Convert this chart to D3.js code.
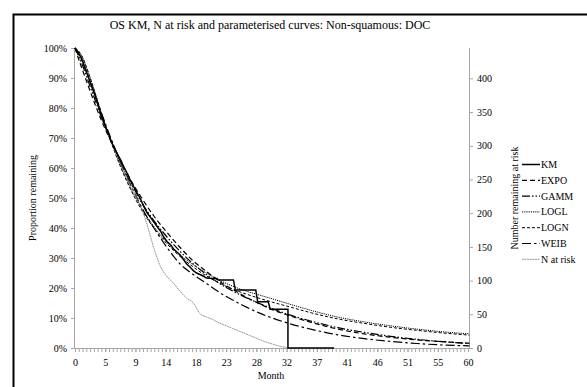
<!DOCTYPE html>
<html><head><meta charset="utf-8">
<script src="https://cdn.jsdelivr.net/npm/d3@7"></script>
<style>body{margin:0;background:#fff}svg{display:block;font-family:"Liberation Serif","Times New Roman",serif}text{font-family:"Liberation Serif","Times New Roman",serif;fill:#000}</style>
</head><body>
<script>
// ---- data ----
const title = "OS KM, N at risk and parameterised curves: Non-squamous: DOC";
const xTickWeeks = [0,20,40,60,80,100,120,140,160,180,200,220,240,260];
const xTickLabels = ["0","5","9","14","18","23","28","32","37","41","46","51","55","60"];
const yLeftTicks = [0,0.1,0.2,0.3,0.4,0.5,0.6,0.7,0.8,0.9,1.0];
const yRightTicks = [0,50,100,150,200,250,300,350,400];
const seriesNames = ["KM","EXPO","GAMM","LOGL","LOGN","WEIB","N at risk"];

const kmTime = [0,0.5,1,1.5,2,2.5,3,3.5,4,4.5,5,5.5,6,6.5,7,7.5,8,8.5,9,9.5,10,10.5,11,11.5,12,12.5,13,13.5,14,14.5,15,15.5,16,16.5,17,17.5,18,18.5,19,19.5,20,21,21.6,21.8,22.4,24.1,24.4,27.5,27.8,29.4,29.7,32.4,32.4,39.4];
const kmSurv = [1.0,0.985,0.965,0.935,0.905,0.875,0.845,0.81,0.775,0.745,0.72,0.69,0.665,0.645,0.625,0.60,0.58,0.555,0.535,0.515,0.495,0.47,0.45,0.435,0.42,0.405,0.39,0.37,0.355,0.345,0.33,0.32,0.31,0.295,0.28,0.27,0.258,0.25,0.245,0.24,0.233,0.232,0.232,0.227,0.227,0.227,0.193,0.193,0.154,0.154,0.129,0.129,0,0];

const parTime = [0,1,2,3,4,5,6,7,8,9,10,12,14,16,18,20,22,24,26,28,30,33,36,40,44,48,52,56,60];
const expo = [1,0.935,0.875,0.815,0.76,0.71,0.665,0.62,0.58,0.54,0.505,0.44,0.385,0.335,0.29,0.255,0.222,0.195,0.17,0.148,0.128,0.105,0.085,0.063,0.047,0.036,0.027,0.021,0.016];
const gamm = [1,0.95,0.89,0.83,0.77,0.715,0.665,0.615,0.57,0.53,0.49,0.425,0.37,0.322,0.28,0.245,0.215,0.19,0.168,0.149,0.131,0.108,0.089,0.068,0.052,0.039,0.029,0.021,0.015];
const logl = [1,0.975,0.92,0.855,0.785,0.72,0.66,0.605,0.555,0.51,0.47,0.405,0.352,0.31,0.277,0.25,0.226,0.206,0.19,0.177,0.164,0.144,0.125,0.103,0.087,0.074,0.063,0.054,0.047];
const logn = [1,0.975,0.92,0.853,0.782,0.716,0.656,0.6,0.55,0.505,0.465,0.4,0.347,0.305,0.27,0.24,0.216,0.196,0.18,0.166,0.153,0.135,0.117,0.097,0.082,0.069,0.059,0.05,0.043];
const weib = [1,0.96,0.905,0.845,0.785,0.725,0.67,0.615,0.565,0.52,0.475,0.4,0.335,0.28,0.245,0.215,0.185,0.16,0.137,0.117,0.1,0.079,0.062,0.044,0.031,0.022,0.015,0.01,0.007];

const nTime = [0,1,2,3,4,5,6,7,8,9,10,11,12,13,14,15,16,17,18,19,20,21,22,23,24,25,26,27,28,29,30,31,32,32.4];
const nRisk = [446,430,403,374,344,318,294,272,251,231,210,182,148,121,106,96,84,74,67,51,46,42,37,33,29,25,21,17,13,9,6,3,1,0];

// ---- layout ----
const W = 587, H = 387;
const L = 75, R = 468, T = 48, B = 348;
const svg = d3.select("body").append("svg").attr("width", W).attr("height", H);
svg.append("rect").attr("x",13.5).attr("y",14.5).attr("width",700).attr("height",500)
  .attr("fill","none").attr("stroke","#000").attr("stroke-width",2);

const monthsMax = 260*7/30.4375;
const x = d3.scaleLinear().domain([0, monthsMax]).range([L, R]);
const y = d3.scaleLinear().domain([0, 1]).range([B, T]);
const y2 = d3.scaleLinear().domain([0, 445]).range([B, T]);

svg.append("text").attr("x", 270).attr("y", 29).attr("text-anchor","middle")
  .style("font-size","12px").text(title);

// axes
const axisColor = "#a6a6a6";
const gl = svg.append("g").attr("transform",`translate(${L},0)`)
  .call(d3.axisLeft(y).tickValues(yLeftTicks).tickFormat(d3.format(".0%")).tickSize(4).tickPadding(4));
const gr = svg.append("g").attr("transform",`translate(${R+1},0)`)
  .call(d3.axisRight(y2).tickValues(yRightTicks).tickSize(4).tickPadding(4));
const minorWeeks = d3.range(0, 261, 2.5);
const gxm = svg.append("g").attr("transform",`translate(0,${B})`)
  .call(d3.axisBottom(x).tickValues(minorWeeks.map(w=>w*7/30.4375)).tickFormat("").tickSize(4));
const gx = svg.append("g").attr("transform",`translate(0,${B})`)
  .call(d3.axisBottom(x).tickValues(xTickWeeks.map(w=>w*7/30.4375)).tickFormat((d,i)=>xTickLabels[i]).tickSize(4).tickPadding(7));
[gl,gr,gx,gxm].forEach(g=>{
  g.attr("font-family", "Liberation Serif");
  g.selectAll("path").attr("stroke",axisColor).attr("stroke-width",1);
  g.selectAll("line").attr("stroke",axisColor);
  g.selectAll("text").style("font-family","Liberation Serif").style("font-size","10px").attr("fill","#000");
});
gr.select("path").attr("d",`M0.5,${B}V${T}`);
gl.select("path").attr("d",`M-0.5,${B}V${T}`);
gx.select("path").attr("d",`M${L},0.5H${R+1}`);
gxm.select("path").remove();

svg.append("text").attr("transform",`translate(35.5,198) rotate(-90)`).attr("text-anchor","middle")
  .style("font-size","10px").text("Proportion remaining");
svg.append("text").attr("transform",`translate(518,198) rotate(-90)`).attr("text-anchor","middle")
  .style("font-size","10px").text("Number remaining at risk");
svg.append("text").attr("x",271).attr("y",379).attr("text-anchor","middle")
  .style("font-size","10px").text("Month");

// series
const styles = {
  "KM":{dash:null,w:1.5,c:"#000"},
  "EXPO":{dash:"5,3",w:1.2,c:"#000"},
  "GAMM":{dash:"8,2,1.5,2,1.5,2",w:1.2,c:"#000"},
  "LOGL":{dash:"1.2,1",w:1,c:"#000"},
  "LOGN":{dash:"3,2",w:1,c:"#000"},
  "WEIB":{dash:"9,3,2.5,3",w:1.2,c:"#000"},
  "N at risk":{dash:"2,0.6",w:0.8,c:"#7f7f7f"}
};
const plot = svg.append("g");
const lineP = d3.line().x(d=>x(d[0])).y(d=>y(d[1])).curve(d3.curveMonotoneX);
const parData = {EXPO:expo,GAMM:gamm,LOGL:logl,LOGN:logn,WEIB:weib};
Object.keys(parData).forEach(k=>{
  const s = styles[k];
  plot.append("path").attr("d", lineP(parTime.map((t,i)=>[t,parData[k][i]])))
    .attr("fill","none").attr("stroke",s.c).attr("stroke-width",s.w).attr("stroke-dasharray",s.dash);
});
const lineN = d3.line().x(d=>x(d[0])).y(d=>y2(d[1])).curve(d3.curveMonotoneX);
plot.append("path").attr("d", lineN(nTime.map((t,i)=>[t,nRisk[i]])))
  .attr("fill","none").attr("stroke",styles["N at risk"].c).attr("stroke-width",styles["N at risk"].w)
  .attr("stroke-dasharray",styles["N at risk"].dash);
const lineKM = d3.line().x(d=>x(d[0])).y(d=>y(d[1])).curve(d3.curveLinear);
plot.append("path").attr("d", lineKM(kmTime.map((t,i)=>[t,kmSurv[i]])))
  .attr("fill","none").attr("stroke","#000").attr("stroke-width",1.5);

// legend
const lg = svg.append("g");
seriesNames.forEach((n,i)=>{
  const yy = 164.5 + i*15.8;
  const s = styles[n];
  lg.append("line").attr("x1",522).attr("x2",540).attr("y1",yy).attr("y2",yy)
    .attr("stroke",s.c).attr("stroke-width",s.w).attr("stroke-dasharray",s.dash);
  lg.append("text").attr("x",541).attr("y",yy+3.5).style("font-size","10px").text(n);
});
</script>
</body></html>
